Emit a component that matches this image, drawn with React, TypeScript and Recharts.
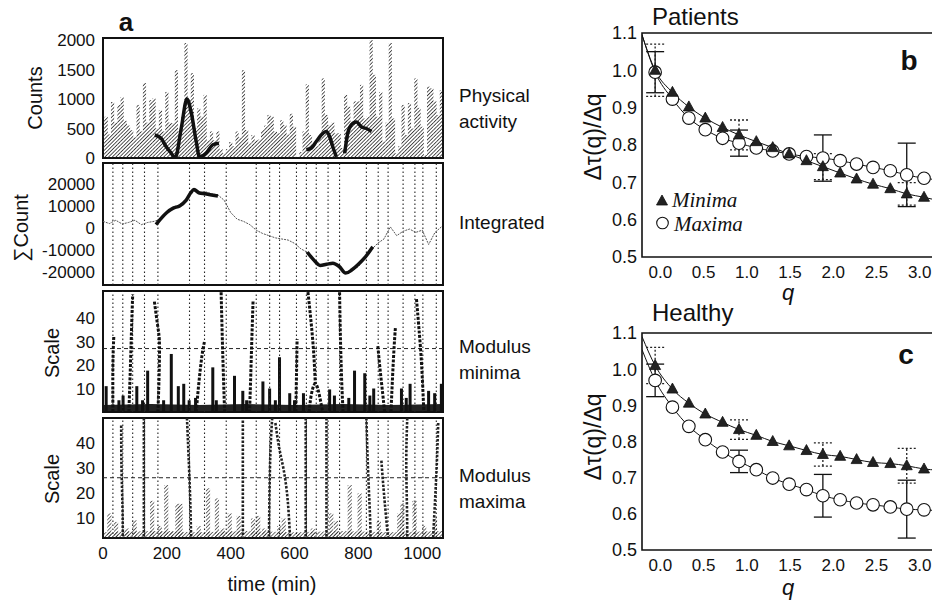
import React from 'react';
import {
  ComposedChart, Bar, Line, Area, Scatter, XAxis, YAxis,
  ReferenceLine, ReferenceArea, ErrorBar,
} from 'recharts';

// ---- panel a : activity record ----
const countTimes = [
  0, 10, 20, 30, 40, 50, 60, 70, 80, 90,
  100, 110, 120, 130, 140, 150, 160, 170, 180, 190,
  200, 210, 220, 230, 240, 250, 260, 270, 280, 290,
  300, 310, 320, 330, 340, 350, 360, 370, 380, 390,
  400, 410, 420, 430, 440, 450, 460, 470, 480, 490,
  500, 510, 520, 530, 540, 550, 560, 570, 580, 590,
  600, 610, 620, 630, 640, 650, 660, 670, 680, 690,
  700, 710, 720, 730, 740, 750, 760, 770, 780, 790,
  800, 810, 820, 830, 840, 850, 860, 870, 880, 890,
  900, 910, 920, 930, 940, 950, 960, 970, 980, 990,
  1000, 1010, 1020, 1030, 1040, 1050, 1060,
];
const countValues = [
  650, 700, 400, 950, 600, 900, 1030, 630, 550, 470,
  350, 900, 450, 1270, 600, 980, 1010, 500, 810, 450,
  1120, 600, 590, 1490, 450, 700, 1950, 1000, 1440, 500,
  840, 700, 1070, 300, 450, 300, 450, 150, 80, 150,
  270, 200, 450, 350, 1490, 475, 250, 390, 300, 310,
  475, 550, 730, 700, 450, 420, 640, 560, 400, 750,
  530, 0, 100, 450, 1250, 390, 220, 200, 330, 1350,
  730, 560, 600, 420, 420, 170, 1070, 870, 620, 960,
  960, 1240, 670, 700, 2000, 1410, 700, 1120, 280, 600,
  1950, 670, 80, 200, 900, 390, 930, 500, 1350, 850,
  530, 50, 1210, 1180, 960, 730, 1150,
];
const countRows = countTimes.map((t, i) => ({ t, count: countValues[i] }));

// thick smoothed segments drawn over the counts
const activityFitA = [
  { t: 162, v: 390 }, { t: 182, v: 335 }, { t: 198, v: 190 }, { t: 214, v: 80 },
  { t: 226, v: 0 }, { t: 245, v: 500 }, { t: 263, v: 1000 }, { t: 276, v: 780 },
  { t: 292, v: 280 }, { t: 302, v: 20 }, { t: 323, v: 80 }, { t: 344, v: 225 }, { t: 363, v: 250 },
];
const activityFitB = [
  { t: 637, v: 140 }, { t: 653, v: 170 }, { t: 668, v: 280 }, { t: 689, v: 420 },
  { t: 700, v: 450 }, { t: 710, v: 360 }, { t: 721, v: 170 }, { t: 731, v: 20 },
];
const activityFitC = [
  { t: 757, v: 80 }, { t: 768, v: 450 }, { t: 783, v: 590 }, { t: 794, v: 610 },
  { t: 809, v: 530 }, { t: 825, v: 500 }, { t: 841, v: 450 },
];

// integrated count
const integrated = [
  { t: 0, v: 3000 }, { t: 20, v: 2000 }, { t: 40, v: 3500 }, { t: 60, v: 1800 }, { t: 80, v: 2500 },
  { t: 100, v: 3500 }, { t: 120, v: 1500 }, { t: 140, v: 2500 }, { t: 160, v: 3000 }, { t: 180, v: 4000 },
  { t: 200, v: 7000 }, { t: 220, v: 9500 }, { t: 240, v: 10500 }, { t: 260, v: 12500 }, { t: 280, v: 17000 },
  { t: 300, v: 16000 }, { t: 320, v: 16500 }, { t: 340, v: 15500 }, { t: 360, v: 15000 }, { t: 380, v: 12500 },
  { t: 400, v: 7000 }, { t: 420, v: 4000 }, { t: 440, v: 3000 }, { t: 460, v: 1500 }, { t: 480, v: -1000 },
  { t: 500, v: -2500 }, { t: 520, v: -3500 }, { t: 540, v: -4500 }, { t: 560, v: -5000 }, { t: 580, v: -5500 },
  { t: 600, v: -7000 }, { t: 620, v: -9500 }, { t: 640, v: -11000 }, { t: 660, v: -15000 }, { t: 680, v: -17000 },
  { t: 700, v: -16500 }, { t: 720, v: -16000 }, { t: 740, v: -17500 }, { t: 760, v: -20500 }, { t: 780, v: -19500 },
  { t: 800, v: -17500 }, { t: 820, v: -14000 }, { t: 840, v: -10000 }, { t: 860, v: -7000 }, { t: 880, v: -5000 },
  { t: 900, v: 500 }, { t: 920, v: -3500 }, { t: 940, v: -1500 }, { t: 960, v: -500 }, { t: 980, v: -2000 },
  { t: 1000, v: -1000 }, { t: 1020, v: -7500 }, { t: 1040, v: -2000 }, { t: 1060, v: 500 },
];
const integratedFitA = [
  { t: 166, v: 1500 }, { t: 180, v: 4000 }, { t: 200, v: 7000 }, { t: 220, v: 9000 }, { t: 240, v: 10000 },
  { t: 260, v: 12500 }, { t: 275, v: 16000 }, { t: 285, v: 17500 }, { t: 300, v: 16000 }, { t: 320, v: 15500 },
  { t: 340, v: 15000 }, { t: 360, v: 14500 },
];
const integratedFitB = [
  { t: 640, v: -11000 }, { t: 660, v: -14500 }, { t: 680, v: -17000 }, { t: 700, v: -16500 }, { t: 720, v: -16000 },
  { t: 740, v: -17500 }, { t: 760, v: -20500 }, { t: 780, v: -19000 }, { t: 800, v: -16500 }, { t: 820, v: -13500 },
  { t: 845, v: -8500 },
];

// vertical dotted markers shared by the lower panels
const markerTimes = [31, 62, 93, 130, 172, 271, 318, 386, 480, 522, 553, 606, 637, 668, 705, 741, 825, 862, 893, 940, 977, 1002, 1044];

// wavelet skeleton: modulus minima
const minimaBase = [
  { t: 0, s: 3 }, { t: 150, s: 3.4 }, { t: 300, s: 3 }, { t: 450, s: 3.4 },
  { t: 600, s: 3 }, { t: 750, s: 3.4 }, { t: 900, s: 3 }, { t: 1065, s: 3.4 },
];
const minimaShortT = [10, 50, 63, 106, 124, 140, 190, 214, 236, 253, 270, 290, 344, 355, 412, 438, 450, 501, 522, 540, 553, 585, 600, 628, 710, 725, 770, 788, 820, 836, 848, 935, 950, 962, 1020, 1039, 1060];
const minimaShortS = [11, 5, 7, 11, 5, 17.6, 5, 24.7, 11, 12, 5, 6, 19, 5, 15.4, 9, 5, 13, 10, 5, 23.3, 8, 5, 8, 9.6, 7, 6, 17.6, 16.5, 7, 10, 10, 6, 12, 9, 8, 12];
const minimaShortRows = minimaShortT.map((t, i) => ({ t, s: minimaShortS[i] }));
const minimaRidges = [
  [{ t: 31, s: 0 }, { t: 31, s: 20 }, { t: 34, s: 32.5 }],
  [{ t: 81, s: 0 }, { t: 86, s: 20 }, { t: 90, s: 38 }, { t: 93, s: 50 }],
  [{ t: 161, s: 47 }, { t: 172, s: 36 }, { t: 177, s: 28 }, { t: 175, s: 12 }, { t: 172, s: 0 }],
  [{ t: 292, s: 0 }, { t: 300, s: 12 }, { t: 310, s: 24 }, { t: 318, s: 30 }],
  [{ t: 370, s: 51 }, { t: 374, s: 30 }, { t: 378, s: 12 }, { t: 381, s: 0 }],
  [{ t: 470, s: 47 }, { t: 466, s: 30 }, { t: 462, s: 12 }, { t: 459, s: 0 }],
  [{ t: 604, s: 0 }, { t: 606, s: 15 }, { t: 608, s: 31 }],
  [{ t: 642, s: 51 }, { t: 652, s: 38 }, { t: 660, s: 25 }, { t: 665, s: 12 }],
  [{ t: 646, s: 0 }, { t: 652, s: 7 }, { t: 665, s: 12 }, { t: 678, s: 7 }, { t: 688, s: 0 }],
  [{ t: 741, s: 51 }, { t: 744, s: 30 }, { t: 748, s: 12 }, { t: 752, s: 0 }],
  [{ t: 861, s: 28 }, { t: 868, s: 18 }, { t: 876, s: 8 }, { t: 882, s: 0 }],
  [{ t: 902, s: 0 }, { t: 907, s: 15 }, { t: 912, s: 28 }, { t: 916, s: 36 }],
  [{ t: 982, s: 48 }, { t: 990, s: 35 }, { t: 998, s: 20 }, { t: 1005, s: 0 }],
];

// wavelet skeleton: modulus maxima
const maximaBase = [
  { t: 0, s: 4.5 }, { t: 150, s: 5 }, { t: 300, s: 4.5 }, { t: 450, s: 5 },
  { t: 600, s: 4.5 }, { t: 750, s: 5 }, { t: 900, s: 4.5 }, { t: 1065, s: 5 },
];
const maximaShortT = [20, 41, 75, 99, 154, 178, 198, 214, 233, 243, 300, 329, 357, 375, 397, 425, 470, 486, 505, 552, 566, 611, 657, 715, 730, 773, 804, 864, 928, 938, 976, 1006, 1040];
const maximaShortS = [12, 8.6, 6, 9.3, 17, 7, 23.3, 5, 15.8, 15.8, 7, 22, 18, 6, 12, 11, 10, 11, 6, 7, 10, 4, 6, 12, 9, 23.3, 20, 9, 12, 16, 17, 7, 10];
const maximaShortRows = maximaShortT.map((t, i) => ({ t, s: maximaShortS[i] }));
const maximaRidges = [
  [{ t: 57, s: 47 }, { t: 58, s: 30 }, { t: 61, s: 15 }, { t: 62, s: 2 }],
  [{ t: 128, s: 50 }, { t: 128, s: 2 }],
  [{ t: 263, s: 50 }, { t: 268, s: 35 }, { t: 273, s: 18 }, { t: 276, s: 2 }],
  [{ t: 438, s: 49 }, { t: 438, s: 2 }],
  [{ t: 530, s: 50 }, { t: 524, s: 35 }, { t: 521, s: 15 }, { t: 520, s: 2 }],
  [{ t: 540, s: 48 }, { t: 552, s: 38 }, { t: 565, s: 30 }, { t: 578, s: 18 }, { t: 586, s: 2 }],
  [{ t: 635, s: 50 }, { t: 635, s: 2 }],
  [{ t: 700, s: 50 }, { t: 700, s: 2 }],
  [{ t: 825, s: 50 }, { t: 830, s: 30 }, { t: 836, s: 12 }, { t: 838, s: 2 }],
  [{ t: 872, s: 33 }, { t: 880, s: 20 }, { t: 893, s: 2 }],
  [{ t: 953, s: 50 }, { t: 950, s: 33 }, { t: 952, s: 15 }, { t: 953, s: 2 }],
  [{ t: 1050, s: 48 }, { t: 1045, s: 30 }, { t: 1038, s: 12 }, { t: 1034, s: 2 }],
];

// ---- panels b, c : delta tau / delta q ----
const qValues = [-0.06, 0.14, 0.33, 0.52, 0.72, 0.91, 1.11, 1.3, 1.49, 1.69, 1.88, 2.08, 2.27, 2.46, 2.66, 2.85, 3.05];
const patientsMinima = [1.0, 0.941, 0.902, 0.872, 0.847, 0.827, 0.809, 0.793, 0.776, 0.758, 0.742, 0.725, 0.709, 0.695, 0.683, 0.669, 0.66];
const patientsMaxima = [0.995, 0.923, 0.872, 0.841, 0.818, 0.805, 0.792, 0.784, 0.776, 0.769, 0.765, 0.758, 0.749, 0.74, 0.731, 0.72, 0.711];
const healthyMinima = [1.01, 0.945, 0.906, 0.876, 0.853, 0.833, 0.817, 0.8, 0.788, 0.775, 0.764, 0.759, 0.75, 0.742, 0.739, 0.733, 0.724];
const healthyMaxima = [0.969, 0.895, 0.842, 0.805, 0.771, 0.745, 0.722, 0.699, 0.682, 0.667, 0.65, 0.639, 0.63, 0.625, 0.619, 0.613, 0.611];
// fit curve end points at the frame edges
const patientsFitEnds = { left: [1.095, 1.095], right: [0.652, 0.707] };
const healthyFitEnds = { left: [1.09, 1.054], right: [0.721, 0.609] };
const errorIndex = [0, 5, 10, 15];
const patientsMinErr = [0.07, 0.04, 0.035, 0.03];
const patientsMaxErr = [0.055, 0.035, 0.062, 0.085];
const healthyMinErr = [0.05, 0.027, 0.032, 0.048];
const healthyMaxErr = [0.045, 0.031, 0.059, 0.08];
const qTicks = [0, 0.5, 1, 1.5, 2, 2.5, 3];
const ratioTicks = [0.5, 0.6, 0.7, 0.8, 0.9, 1.0, 1.1];

const SANS = '"Liberation Sans", Arial, Helvetica, sans-serif';
const SERIF = '"Liberation Serif", "Times New Roman", serif';
const tickA = { fill: '#111', fontSize: 17, fontFamily: SANS };
const T_DOMAIN: [number, number] = [0, 1065];
const PAD = 12; // room above/below each plot so edge tick labels are not cut

const Txt = ({ x, y, size, children, rotate, bold, italic, serif, start }: any) => (
  <div
    style={{
      position: 'absolute', left: x, top: y, lineHeight: 1, whiteSpace: 'nowrap',
      transform: `translate(${start ? '0' : '-50%'}, -50%)${rotate ? ' rotate(-90deg)' : ''}`,
      fontSize: size, fontWeight: bold ? 700 : 400, fontStyle: italic ? 'italic' : 'normal',
      fontFamily: serif ? SERIF : SANS, color: '#111',
    }}
  >
    {children}
  </div>
);

const Hatch = ({ id, color, w }: any) => (
  <defs>
    <pattern id={id} width="2.6" height="2.6" patternUnits="userSpaceOnUse" patternTransform="rotate(45)">
      <line x1="0" y1="0" x2="0" y2="2.6" stroke={color} strokeWidth={w} />
    </pattern>
  </defs>
);

// fixed-width column shape, centred on the data x
const column = (w: number, fill: string) => (p: any) => {
  if (!p || !(p.height > 0)) return <g />;
  return <rect x={p.x + p.width / 2 - w / 2} y={p.y} width={w} height={p.height} fill={fill} />;
};
const countColumn = column(3.2, 'url(#hatchCounts)');
const minimaColumn = column(3, '#111');
const maximaColumn = column(4.2, 'url(#hatchMax)');

const Frame = ({ y0, y1 }: any) => (
  <ReferenceArea x1={T_DOMAIN[0]} x2={T_DOMAIN[1]} y1={y0} y2={y1} fill="none" stroke="#111" strokeWidth={2} ifOverflow="visible" />
);

const markerLines = markerTimes.map((t) => (
  <ReferenceLine key={'m' + t} x={t} stroke="#222" strokeWidth={1.1} strokeDasharray="1.5 2.5" />
));

const Tri = (p: any) => {
  const { cx, cy } = p;
  if (cx == null || cy == null) return <g />;
  return <path d={`M${cx},${cy - 6} L${cx + 5.5},${cy + 4} L${cx - 5.5},${cy + 4} Z`} fill="#222" stroke="#111" strokeWidth={0.8} />;
};
const Circ = (p: any) => {
  const { cx, cy } = p;
  if (cx == null || cy == null) return <g />;
  return <circle cx={cx} cy={cy} r={6.3} fill="#fff" stroke="#111" strokeWidth={1.1} />;
};
const NoDot = () => <g />;

function RatioPanel({ minima, maxima, ends, minErr, maxErr, plotH }: any) {
  const minPts = qValues.map((q, i) => ({ q, y: minima[i] }));
  const maxPts = qValues.map((q, i) => ({ q, y: maxima[i] }));
  const minFit = [{ q: -0.212, y: ends.left[0] }, ...minPts, { q: 3.2, y: ends.right[0] }];
  const maxFit = [{ q: -0.212, y: ends.left[1] }, ...maxPts, { q: 3.2, y: ends.right[1] }];
  const minErrRows = errorIndex.map((i, k) => ({ q: qValues[i], y: minima[i], err: minErr[k] }));
  const maxErrRows = errorIndex.map((i, k) => ({ q: qValues[i], y: maxima[i], err: maxErr[k] }));
  const tick = { fill: '#111', fontSize: 17, fontFamily: SANS };
  return (
    <ComposedChart width={377} height={plotH + 40 + PAD} margin={{ top: PAD, right: 0, bottom: 0, left: 0 }}>
      <XAxis type="number" dataKey="q" domain={[-0.212, 3.2]} ticks={qTicks} allowDataOverflow
        tickFormatter={(v: number) => v.toFixed(1)} tick={tick} tickLine={false} axisLine={false}
        tickSize={0} tickMargin={9} height={40} interval={0} />
      <YAxis type="number" dataKey="y" domain={[0.5, 1.1]} ticks={ratioTicks} allowDataOverflow
        tickFormatter={(v: number) => v.toFixed(1)} tick={{ ...tick, fontSize: 18 }} tickLine={false}
        axisLine={false} tickSize={0} tickMargin={5} width={82} interval={0} />
      <ReferenceArea x1={-0.212} x2={3.2} y1={0.5} y2={1.1} fill="none" stroke="#111" strokeWidth={1.6} ifOverflow="visible" />
      <Line data={minFit} dataKey="y" type="monotone" stroke="#111" strokeWidth={1} dot={false} isAnimationActive={false} />
      <Line data={maxFit} dataKey="y" type="monotone" stroke="#111" strokeWidth={1} dot={false} isAnimationActive={false} />
      <Scatter data={maxErrRows} dataKey="y" shape={NoDot} isAnimationActive={false}>
        <ErrorBar dataKey="err" direction="y" width={9} stroke="#111" strokeWidth={1.3} />
      </Scatter>
      <Scatter data={minErrRows} dataKey="y" shape={NoDot} isAnimationActive={false}>
        <ErrorBar dataKey="err" direction="y" width={9} stroke="#222" strokeWidth={1.3} strokeDasharray="2 2" />
      </Scatter>
      <Scatter data={maxPts} dataKey="y" shape={Circ} isAnimationActive={false} />
      <Scatter data={minPts} dataKey="y" shape={Tri} isAnimationActive={false} />
    </ComposedChart>
  );
}

const chartMargin = { top: PAD, right: 1, bottom: PAD, left: 0 };

export default function App() {
  return (
    <div style={{ position: 'absolute', left: 0, top: 0, width: 932, height: 600, overflow: 'hidden', background: '#fff', fontFamily: SANS }}>
      {/* a: physical activity counts */}
      <div style={{ position: 'absolute', left: 0, top: 38 - PAD }}>
        <ComposedChart width={444} height={120 + 2 * PAD} data={countRows} margin={chartMargin}>
          <Hatch id="hatchCounts" color="#1a1a1a" w={1.5} />
          <XAxis type="number" dataKey="t" domain={T_DOMAIN} hide allowDataOverflow />
          <YAxis domain={[0, 2035]} ticks={[0, 500, 1000, 1500, 2000]} allowDataOverflow tick={tickA}
            tickLine={false} axisLine={false} tickSize={0} tickMargin={8} width={103} interval={0} />
          <Bar dataKey="count" shape={countColumn} barSize={3} isAnimationActive={false} />
          {[activityFitA, activityFitB, activityFitC].map((seg, i) => (
            <Line key={'af' + i} data={seg} dataKey="v" type="monotone" stroke="#111" strokeWidth={3.5} dot={false} isAnimationActive={false} />
          ))}
          <Frame y0={0} y1={2035} />
        </ComposedChart>
      </div>

      {/* a: integrated counts */}
      <div style={{ position: 'absolute', left: 0, top: 163 - PAD }}>
        <ComposedChart width={444} height={122 + 2 * PAD} margin={chartMargin}>
          <XAxis type="number" dataKey="t" domain={T_DOMAIN} hide allowDataOverflow />
          <YAxis domain={[-25900, 29500]} ticks={[-20000, -10000, 0, 10000, 20000]} allowDataOverflow tick={tickA}
            tickLine={false} axisLine={false} tickSize={0} tickMargin={8} width={103} interval={0} />
          {markerLines}
          <Line data={integrated} dataKey="v" type="linear" stroke="#555" strokeWidth={1} strokeDasharray="2 1" dot={false} isAnimationActive={false} />
          {[integratedFitA, integratedFitB].map((seg, i) => (
            <Line key={'if' + i} data={seg} dataKey="v" type="monotone" stroke="#111" strokeWidth={3.5} dot={false} isAnimationActive={false} />
          ))}
          <Frame y0={-25900} y1={29500} />
        </ComposedChart>
      </div>

      {/* a: modulus minima */}
      <div style={{ position: 'absolute', left: 0, top: 291 - PAD }}>
        <ComposedChart width={444} height={121 + 2 * PAD} data={minimaShortRows} margin={chartMargin}>
          <XAxis type="number" dataKey="t" domain={T_DOMAIN} hide allowDataOverflow />
          <YAxis domain={[0, 51.5]} ticks={[10, 20, 30, 40]} allowDataOverflow tick={tickA}
            tickLine={false} axisLine={false} tickSize={0} tickMargin={8} width={103} interval={0} />
          {markerLines}
          <ReferenceLine y={27} stroke="#222" strokeWidth={1} strokeDasharray="4 3" />
          <Area data={minimaBase} dataKey="s" type="linear" stroke="none" fill="#222" fillOpacity={1} isAnimationActive={false} />
          <Bar dataKey="s" shape={minimaColumn} barSize={3} isAnimationActive={false} />
          {minimaRidges.map((r, i) => (
            <Line key={'mr' + i} data={r} dataKey="s" type="natural" stroke="#111" strokeWidth={3} strokeDasharray="3 1.5" dot={false} isAnimationActive={false} />
          ))}
          <Frame y0={0} y1={51.5} />
        </ComposedChart>
      </div>

      {/* a: modulus maxima */}
      <div style={{ position: 'absolute', left: 0, top: 418 - PAD }}>
        <ComposedChart width={444} height={160 + PAD} data={maximaShortRows} margin={{ top: PAD, right: 1, bottom: 0, left: 0 }}>
          <Hatch id="hatchMax" color="#222" w={1.3} />
          <XAxis type="number" dataKey="t" domain={T_DOMAIN} ticks={[0, 200, 400, 600, 800, 1000]} allowDataOverflow
            tick={tickA} tickLine={false} axisLine={false} tickSize={0} tickMargin={9} height={40} interval={0} />
          <YAxis domain={[2.2, 50]} ticks={[10, 20, 30, 40]} allowDataOverflow tick={tickA}
            tickLine={false} axisLine={false} tickSize={0} tickMargin={8} width={103} interval={0} />
          {markerLines}
          <ReferenceLine y={26.2} stroke="#222" strokeWidth={1} strokeDasharray="4 3" />
          <Area data={maximaBase} dataKey="s" type="linear" stroke="none" fill="url(#hatchMax)" fillOpacity={1} isAnimationActive={false} />
          <Bar dataKey="s" shape={maximaColumn} barSize={4} isAnimationActive={false} />
          {maximaRidges.map((r, i) => (
            <Line key={'xr' + i} data={r} dataKey="s" type="natural" stroke="#222" strokeWidth={2.6} strokeDasharray="2.5 1.5" dot={false} isAnimationActive={false} />
          ))}
          <Frame y0={2.2} y1={50} />
        </ComposedChart>
      </div>

      {/* b: patients */}
      <div style={{ position: 'absolute', left: 560, top: 33 - PAD }}>
        <RatioPanel minima={patientsMinima} maxima={patientsMaxima} ends={patientsFitEnds}
          minErr={patientsMinErr} maxErr={patientsMaxErr} plotH={224} />
      </div>
      {/* c: healthy */}
      <div style={{ position: 'absolute', left: 560, top: 333 - PAD }}>
        <RatioPanel minima={healthyMinima} maxima={healthyMaxima} ends={healthyFitEnds}
          minErr={healthyMinErr} maxErr={healthyMaxErr} plotH={217} />
      </div>

      {/* text */}
      <Txt x={126} y={22} size={26} bold>a</Txt>
      <Txt x={35} y={98} size={20} rotate>Counts</Txt>
      <Txt x={21} y={228} size={20} rotate>∑Count</Txt>
      <Txt x={52} y={353} size={20} rotate>Scale</Txt>
      <Txt x={52} y={479} size={20} rotate>Scale</Txt>
      <Txt x={272} y={584} size={20}>time (min)</Txt>
      <Txt x={459} y={95} size={19} start>Physical</Txt>
      <Txt x={459} y={121} size={19} start>activity</Txt>
      <Txt x={459} y={222} size={19} start>Integrated</Txt>
      <Txt x={459} y={346} size={19} start>Modulus</Txt>
      <Txt x={459} y={372} size={19} start>minima</Txt>
      <Txt x={459} y={475} size={19} start>Modulus</Txt>
      <Txt x={459} y={501} size={19} start>maxima</Txt>

      <Txt x={652} y={17} size={24} start>Patients</Txt>
      <Txt x={652} y={313} size={24} start>Healthy</Txt>
      <Txt x={909} y={61} size={28} bold>b</Txt>
      <Txt x={906} y={355} size={28} bold>c</Txt>
      <Txt x={593} y={137} size={23} rotate>Δτ(q)/Δq</Txt>
      <Txt x={593} y={437} size={23} rotate>Δτ(q)/Δq</Txt>
      <Txt x={788} y={293} size={22} italic>q</Txt>
      <Txt x={788} y={588} size={22} italic>q</Txt>

      {/* legend of b */}
      <svg style={{ position: 'absolute', left: 655, top: 193 }} width={16} height={40}>
        <path d="M7,2 L12.5,12 L1.5,12 Z" fill="#222" stroke="#111" strokeWidth={0.8} />
        <circle cx={7.5} cy={30} r={5.8} fill="#fff" stroke="#111" strokeWidth={1.1} />
      </svg>
      <Txt x={672} y={200} size={21} italic serif start>Minima</Txt>
      <Txt x={674} y={224} size={21} italic serif start>Maxima</Txt>
    </div>
  );
}
